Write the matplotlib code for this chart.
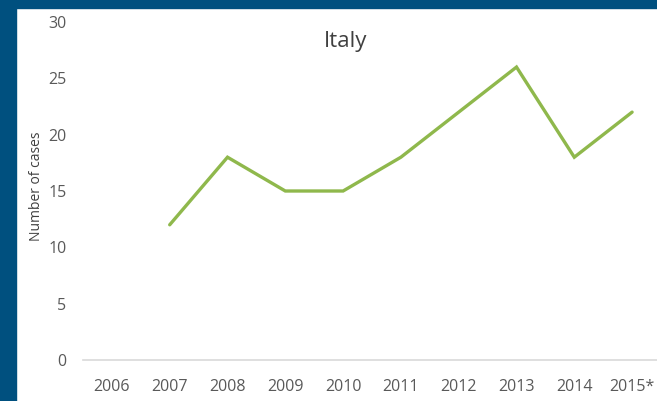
import numpy as np
import matplotlib.pyplot as plt
from matplotlib.patches import Rectangle

plt.rcParams['font.family'] = ['Open Sans', 'DejaVu Sans']

years = ['2006', '2007', '2008', '2009', '2010', '2011', '2012', '2013', '2014', '2015*']
cases = [np.nan, 12, 18, 15, 15, 18, 22, 26, 18, 22]

blue = '#00507F'
green = '#8FB84C'
grey = '#595959'

fig = plt.figure(figsize=(6.57, 4.01), dpi=100)

# dark blue frame on the left and top
fig.patches.append(Rectangle((0, 0), 16 / 657, 1, transform=fig.transFigure, color=blue, zorder=0))
fig.patches.append(Rectangle((0, 1 - 8 / 401), 1, 8 / 401, transform=fig.transFigure, color=blue, zorder=0))

ax = fig.add_axes((83 / 657, 41 / 401, 578 / 657, 338 / 401))
x = np.arange(len(years))
ax.plot(x, cases, color=green, linewidth=2.4, solid_joinstyle='miter', solid_capstyle='round')

ax.set_xlim(-0.5, len(years) - 0.5)
ax.set_ylim(0, 30)
ax.set_yticks(range(0, 31, 5))
ax.set_xticks(x)
ax.set_xticklabels(years)
ax.tick_params(length=0, colors=grey, labelsize=11.5)
ax.tick_params(axis='y', pad=12)
ax.tick_params(axis='x', pad=14)
for s in ['top', 'right', 'left']:
    ax.spines[s].set_visible(False)
ax.spines['bottom'].set_color('#D9D9D9')
ax.spines['bottom'].set_linewidth(1.2)

ax.set_ylabel('Number of cases', color='#404040', fontsize=10)
ax.yaxis.set_label_coords((44 - 83) / 578, 0.513)
fig.text(346 / 657, 1 - 42 / 401, 'Italy', ha='center', va='center', fontsize=16, color='#404040')

fig.savefig('out.png', dpi=100)
